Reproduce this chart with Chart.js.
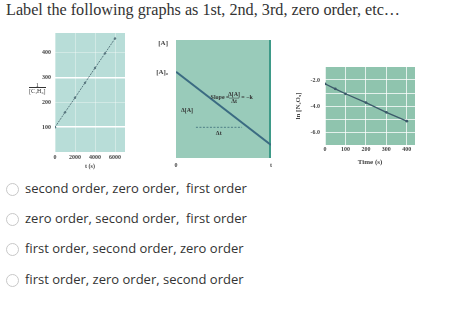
<!DOCTYPE html>
<html><head><meta charset="utf-8">
<script src="https://cdn.jsdelivr.net/npm/chart.js@4"></script>
<style>
html,body{margin:0;padding:0;background:#fff;width:474px;height:317px;overflow:hidden;position:relative}
.t{position:absolute;left:6px;top:1px;font-family:"Liberation Serif",serif;font-size:16.2px;font-weight:normal;color:#333;white-space:nowrap}
.c{position:absolute}
.opt{position:absolute;left:6px;font-family:"Open Sans",sans-serif;font-size:13px;color:#333;white-space:pre;line-height:16px}
.opt span.r{display:inline-block;width:13px;height:13px;border:1px solid #c8c8c8;border-radius:50%;vertical-align:-3px;margin-right:6px;box-sizing:border-box}
.lab{position:absolute;font-family:"Liberation Serif",serif;font-size:6px;color:#333;white-space:nowrap}
</style></head><body>
<div class="t">Label the following graphs as 1st, 2nd, 3rd, zero order, etc…</div>
<canvas id="g1" class="c" width="108" height="140" style="left:20px;top:30px"></canvas>
<canvas id="g2" class="c" width="135" height="140" style="left:140px;top:35px"></canvas>
<canvas id="g3" class="c" width="130" height="110" style="left:290px;top:60px"></canvas>
<div class="lab" style="left:29px;top:82px;text-align:center;line-height:6px">1<br><span style="border-top:0.5px solid #333">[C₄H₆]</span></div>
<div id="opts"></div>
<script>
// ---- data ----
const g1Time = [0, 1000, 2000, 3000, 4000, 5000, 6000];
const g1InvConc = [100, 160, 219, 279, 339, 398, 458];
const g1XTicks = [0, 2000, 4000, 6000];
const g1YTicks = [100, 200, 300, 400];

const g2Time = [0, 10];
const g2Conc = [7.3, 1.1];
const g2DashTime = [2.1, 6.95];
const g2DashConc = [2.6, 2.6];
const g2YTickValues = [7.3, 9.7];
const g2YTickLabels = ['[A]₀', '[A]'];
const g2XTickValues = [0, 10];
const g2XTickLabels = ['0', 't'];

const g3Time = [0, 50, 100, 200, 300, 400];
const g3LnConc = [-2.30, -2.68, -3.06, -3.74, -4.49, -5.17];
const g3XTicks = [0, 100, 200, 300, 400];
const g3YTicks = [-2, -3, -4, -5, -6];

const answers = [
  'second order, zero order,  first order',
  'zero order, second order,  first order',
  'first order, second order, zero order',
  'first order, zero order, second order'
];

// ---- options list ----
const optTops = [180, 210, 240, 271];
answers.forEach((a, i) => {
  const d = document.createElement('div');
  d.className = 'opt';
  d.style.top = optTops[i] + 'px';
  d.innerHTML = '<span class="r"></span>' + a;
  document.getElementById('opts').appendChild(d);
});

const tickFont = {family: 'Liberation Serif', size: 6, weight: 'bold'};
const bgPlugin = (color, rightBorder) => ({
  id: 'bg',
  beforeDraw(chart) {
    const {ctx, chartArea: a} = chart;
    ctx.save();
    ctx.fillStyle = color;
    ctx.fillRect(a.left, a.top, a.right - a.left, a.bottom - a.top);
    if (rightBorder) {
      ctx.strokeStyle = rightBorder; ctx.lineWidth = 2;
      ctx.beginPath(); ctx.moveTo(a.right - 1, a.top); ctx.lineTo(a.right - 1, a.bottom); ctx.stroke();
    }
    ctx.restore();
  }
});
const fixAxis = (w, h) => (s) => {
  if (w !== null) s.width = w;
  if (h !== null) s.height = h;
  s.paddingTop = 0; s.paddingBottom = 0; s.paddingLeft = 0; s.paddingRight = 0;
};
const setTicks = (vals) => (s) => { s.ticks = vals.map(v => ({value: v})); };

// ---- graph 1: second order ----
new Chart(document.getElementById('g1'), {
  type: 'scatter',
  data: {datasets: [{
    data: g1Time.map((t, i) => ({x: t, y: g1InvConc[i]})),
    showLine: true, borderColor: '#5a7880', borderWidth: 1, borderDash: [2, 1],
    pointRadius: 1.2, pointBackgroundColor: '#5a7880', pointBorderWidth: 0
  }]},
  options: {
    responsive: false, animation: false, events: [],
    layout: {autoPadding: false, padding: {top: 3, right: 3, bottom: 0, left: 0}},
    plugins: {legend: {display: false}, tooltip: {enabled: false}},
    scales: {
      x: {type: 'linear', min: 0, max: 7000, afterBuildTicks: setTicks(g1XTicks), afterFit: fixAxis(null, 18),
          grid: {color: 'rgba(255,255,255,0.35)', drawTicks: false}, border: {display: false},
          ticks: {font: tickFont, color: '#444', padding: 2, callback: v => String(v)},
          title: {display: true, text: 't (s)', font: tickFont, color: '#444', padding: 0}},
      y: {type: 'linear', min: 0, max: 480, afterBuildTicks: setTicks(g1YTicks), afterFit: fixAxis(35, null),
          grid: {color: c => (c.tick && (c.tick.value === 100 || c.tick.value === 300)) ? '#ffffff' : 'rgba(255,255,255,0.35)', lineWidth: c => (c.tick && (c.tick.value === 100 || c.tick.value === 300)) ? 1.5 : 1, drawTicks: false},
          border: {display: false},
          ticks: {font: tickFont, color: '#444', padding: 4, callback: v => String(v)}}
    }
  },
  plugins: [bgPlugin('#b8ddd8')]
});

// ---- graph 2: zero order ----
const g2Notes = {
  slope: {x: 5.9, y: 5.1},
  dA: {x: 1.15, y: 4.05},
  dt: {x: 4.5, y: 2.1}
};
const notePlugin = {
  id: 'notes',
  afterDatasetsDraw(chart) {
    const {ctx, scales: {x, y}} = chart;
    ctx.save();
    ctx.fillStyle = '#333';
    ctx.font = 'bold 6px "Liberation Serif"';
    ctx.textAlign = 'center'; ctx.textBaseline = 'middle';
    const sx = x.getPixelForValue(g2Notes.slope.x), sy = y.getPixelForValue(g2Notes.slope.y);
    ctx.fillText('Slope =', sx - 12, sy);
    ctx.fillText('Δ[A]', sx + 2, sy - 3);
    ctx.fillText('Δt', sx + 2, sy + 4);
    ctx.fillRect(sx - 3, sy, 10, 0.5);
    ctx.fillText('= −k', sx + 15, sy);
    ctx.fillText('Δ[A]', x.getPixelForValue(g2Notes.dA.x), y.getPixelForValue(g2Notes.dA.y));
    ctx.fillText('Δt', x.getPixelForValue(g2Notes.dt.x), y.getPixelForValue(g2Notes.dt.y));
    ctx.restore();
  }
};
new Chart(document.getElementById('g2'), {
  type: 'scatter',
  data: {datasets: [
    {data: g2Time.map((t, i) => ({x: t, y: g2Conc[i]})), showLine: true,
     borderColor: '#3b6b82', borderWidth: 2, pointRadius: 0},
    {data: g2DashTime.map((t, i) => ({x: t, y: g2DashConc[i]})), showLine: true,
     borderColor: '#4f7f86', borderWidth: 1, borderDash: [2, 1.5], pointRadius: 0}
  ]},
  options: {
    responsive: false, animation: false, events: [],
    layout: {autoPadding: false, padding: {top: 5, right: 4, bottom: 0, left: 0}},
    plugins: {legend: {display: false}, tooltip: {enabled: false}},
    scales: {
      x: {type: 'linear', min: 0, max: 10, afterBuildTicks: setTicks(g2XTickValues), afterFit: fixAxis(null, 17),
          grid: {display: false, drawTicks: false}, border: {display: false},
          ticks: {font: tickFont, color: '#444', padding: 4, callback: v => g2XTickLabels[g2XTickValues.indexOf(v)]}},
      y: {type: 'linear', min: 0, max: 10, afterBuildTicks: setTicks(g2YTickValues), afterFit: fixAxis(36, null),
          grid: {display: false, drawTicks: false}, border: {display: false},
          ticks: {font: {family: 'Liberation Serif', size: 7, weight: 'bold'}, color: '#444', padding: 8,
                  callback: v => g2YTickLabels[g2YTickValues.indexOf(v)]}}
    }
  },
  plugins: [bgPlugin('#99cbba', '#3e9a88'), notePlugin]
});

// ---- graph 3: first order ----
new Chart(document.getElementById('g3'), {
  type: 'scatter',
  data: {datasets: [{
    data: g3Time.map((t, i) => ({x: t, y: g3LnConc[i]})),
    showLine: true, borderColor: '#3c5a6a', borderWidth: 1.3,
    pointRadius: 1.4, pointBackgroundColor: '#3c5a6a', pointBorderWidth: 0
  }]},
  options: {
    responsive: false, animation: false, events: [],
    layout: {autoPadding: false, padding: {top: 7, right: 5, bottom: 0, left: 0}},
    plugins: {legend: {display: false}, tooltip: {enabled: false}},
    scales: {
      x: {type: 'linear', min: 0, max: 440, afterBuildTicks: setTicks(g3XTicks), afterFit: fixAxis(null, 25),
          grid: {color: 'rgba(255,255,255,0.75)', drawTicks: false}, border: {display: false},
          ticks: {font: tickFont, color: '#444', padding: 1, callback: v => String(v)},
          title: {display: true, text: 'Time (s)', font: {family: 'Liberation Serif', size: 7, weight: 'bold'}, color: '#444', padding: {top: 0}}},
      y: {type: 'linear', min: -7, max: -1, afterBuildTicks: setTicks(g3YTicks), afterFit: fixAxis(35, null),
          grid: {color: 'rgba(255,255,255,0.75)', drawTicks: false}, border: {display: false},
          ticks: {font: tickFont, color: '#444', padding: 5, callback: v => (v % 2 === 0) ? v.toFixed(1) : ''},
          title: {display: true, text: 'ln [N₂O₅]', font: {family: 'Liberation Serif', size: 7, weight: 'bold'}, color: '#444', padding: {bottom: 1}}}
    }
  },
  plugins: [bgPlugin('#8fc4ae')]
});
</script>
</body></html>
